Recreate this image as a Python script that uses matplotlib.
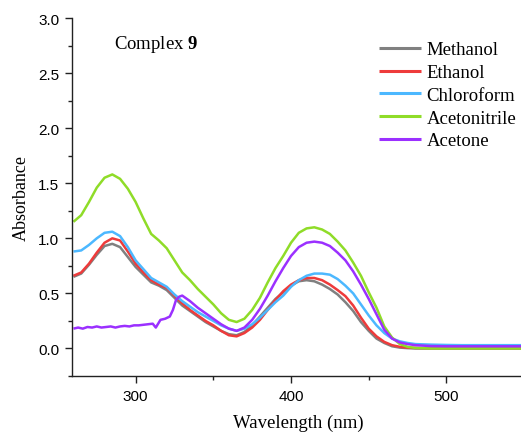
import matplotlib
matplotlib.use("Agg")
import matplotlib.pyplot as plt
from matplotlib.ticker import MultipleLocator

# Wavelength grid (nm) shared by the four smooth spectra
wl = [260, 265, 270, 275, 280, 285, 290, 295, 300, 305, 310, 315, 320, 325, 330,
      335, 340, 345, 350, 355, 360, 365, 370, 375, 380, 385, 390, 395, 400, 405,
      410, 415, 420, 425, 430, 435, 440, 445, 450, 455, 460, 465, 470, 475, 480,
      490, 500, 510, 520, 530, 540, 550]

methanol = [0.65, 0.68, 0.76, 0.85, 0.93, 0.95, 0.92, 0.83, 0.74, 0.67, 0.60, 0.57, 0.53, 0.46, 0.39,
            0.34, 0.29, 0.24, 0.20, 0.16, 0.13, 0.12, 0.15, 0.21, 0.29, 0.37, 0.45, 0.51, 0.57, 0.61,
            0.62, 0.61, 0.58, 0.54, 0.49, 0.42, 0.34, 0.24, 0.16, 0.09, 0.05, 0.02, 0.008, 0.003, 0.0,
            0.0, 0.0, 0.0, 0.0, 0.0, 0.0, 0.0]

ethanol = [0.66, 0.69, 0.77, 0.87, 0.96, 1.00, 0.98, 0.88, 0.77, 0.69, 0.62, 0.58, 0.55, 0.48, 0.41,
           0.35, 0.30, 0.25, 0.21, 0.16, 0.12, 0.11, 0.14, 0.19, 0.26, 0.35, 0.44, 0.52, 0.58, 0.62,
           0.64, 0.64, 0.62, 0.58, 0.53, 0.475, 0.39, 0.28, 0.18, 0.11, 0.06, 0.03, 0.015, 0.008, 0.005,
           0.003, 0.003, 0.003, 0.003, 0.003, 0.003, 0.003]

chloroform = [0.88, 0.89, 0.94, 1.00, 1.05, 1.06, 1.02, 0.92, 0.80, 0.72, 0.64, 0.60, 0.56, 0.49, 0.43,
              0.38, 0.33, 0.29, 0.25, 0.21, 0.18, 0.16, 0.18, 0.22, 0.28, 0.35, 0.42, 0.48, 0.56, 0.62,
              0.66, 0.68, 0.68, 0.67, 0.63, 0.57, 0.50, 0.40, 0.30, 0.21, 0.14, 0.09, 0.065, 0.05, 0.04,
              0.035, 0.032, 0.03, 0.03, 0.03, 0.03, 0.03]

acetonitrile = [1.15, 1.21, 1.33, 1.46, 1.55, 1.58, 1.54, 1.45, 1.33, 1.18, 1.04, 0.98, 0.91, 0.80, 0.69,
                0.62, 0.54, 0.47, 0.40, 0.32, 0.26, 0.24, 0.27, 0.35, 0.46, 0.60, 0.73, 0.84, 0.96, 1.05,
                1.09, 1.10, 1.08, 1.04, 0.97, 0.89, 0.78, 0.66, 0.51, 0.37, 0.20, 0.10, 0.04, 0.015, 0.005,
                0.0, 0.0, 0.0, 0.0, 0.0, 0.0, 0.0]

# Acetone cuts off below ~320 nm, so it gets a denser grid around the step
wl_acetone = [260, 263, 266, 269, 272, 275, 278, 281, 284, 287, 290, 293, 296, 299, 302, 305,
              308, 311, 313, 316, 319, 322, 324, 326, 328, 330, 335, 340, 345, 350, 355, 360,
              365, 370, 375, 380, 385, 390, 395, 400, 405, 410, 415, 420, 425, 430, 435, 440,
              445, 450, 455, 460, 465, 470, 475, 480, 490, 500, 510, 520, 530, 540, 550]
acetone = [0.18, 0.19, 0.18, 0.195, 0.19, 0.20, 0.19, 0.195, 0.20, 0.19, 0.20, 0.205, 0.20, 0.21, 0.21, 0.215,
           0.22, 0.225, 0.19, 0.26, 0.27, 0.29, 0.35, 0.44, 0.47, 0.48, 0.43, 0.37, 0.32, 0.27, 0.22, 0.18,
           0.16, 0.19, 0.26, 0.36, 0.48, 0.61, 0.73, 0.84, 0.92, 0.96, 0.97, 0.96, 0.93, 0.87, 0.80, 0.70,
           0.58, 0.45, 0.31, 0.17, 0.09, 0.055, 0.04, 0.03, 0.022, 0.02, 0.02, 0.02, 0.02, 0.02, 0.02]

labels = ["Methanol", "Ethanol", "Chloroform", "Acetonitrile", "Acetone"]
colors = ["#808080", "#ee3b3b", "#4cb8ff", "#8fdc28", "#9b30ff"]

serif = "Liberation Serif"
sans = "Liberation Sans"
plt.rcParams["mathtext.fontset"] = "custom"
plt.rcParams["mathtext.rm"] = serif
plt.rcParams["mathtext.bf"] = serif + ":bold"

fig = plt.figure(figsize=(5.21, 4.35), dpi=100)
ax = fig.add_axes([0.138, 0.1333, 0.868, 0.823])

series = [(wl, methanol), (wl, ethanol), (wl, chloroform), (wl, acetonitrile), (wl_acetone, acetone)]
for (x, y), lab, c in zip(series, labels, colors):
    ax.plot(x, y, color=c, lw=1.8, label=lab, solid_capstyle="butt")

ax.set_xlim(259, 550)
ax.set_ylim(-0.25, 3.0)
ax.xaxis.set_major_locator(MultipleLocator(100))
ax.xaxis.set_minor_locator(MultipleLocator(50))
ax.yaxis.set_minor_locator(MultipleLocator(0.25))
ax.set_yticks([0.0, 0.5, 1.0, 1.5, 2.0, 2.5, 3.0])
ax.set_yticklabels(["0.0", "0.5", "1.0", "1.5", "2.0", "2.5", "3.0"])

for s in ("top", "right"):
    ax.spines[s].set_visible(False)
for s in ("left", "bottom"):
    ax.spines[s].set_linewidth(1.0)
    ax.spines[s].set_color("#222222")

ax.tick_params(axis="both", which="major", length=5, width=1.0, direction="out",
               labelsize=11, color="#222222", pad=4)
ax.tick_params(axis="both", which="minor", length=3, width=1.0, direction="out", color="#222222")
for t in ax.get_xticklabels() + ax.get_yticklabels():
    t.set_fontfamily(sans)

ax.set_xlabel("Wavelength (nm)", fontfamily=serif, fontsize=13.5, labelpad=8)
ax.set_ylabel("Absorbance", fontfamily=serif, fontsize=13, labelpad=6)

ax.text(0.093, 0.93, r"Complex $\mathbf{9}$", transform=ax.transAxes,
        fontfamily=serif, fontsize=13.5, ha="left", va="center")

leg = ax.legend(loc="upper left", bbox_to_anchor=(0.679, 0.935), frameon=False,
                prop={"family": serif, "size": 13.5}, handlelength=2.24,
                handletextpad=0.3, labelspacing=0.3, borderaxespad=0.0, borderpad=0.0)
for line in leg.get_lines():
    line.set_linewidth(2.2)

fig.savefig("out.png", dpi=100)
